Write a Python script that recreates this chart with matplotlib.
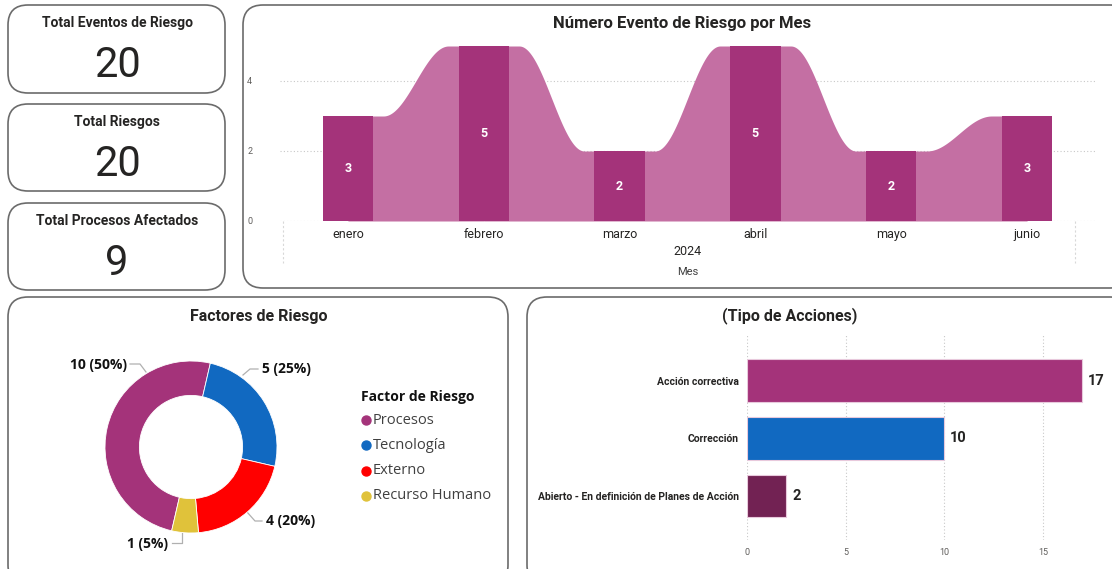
import numpy as np
import matplotlib
matplotlib.use("Agg")
import matplotlib.pyplot as plt
from matplotlib.patches import FancyBboxPatch

plt.rcParams['font.family'] = ['Roboto', 'DejaVu Sans']

W, H = 1112, 569

# ---------------- datos ----------------
tarjetas_titulos = ["Total Eventos de Riesgo", "Total Riesgos", "Total Procesos Afectados"]
tarjetas_valores = [20, 20, 9]

meses = ["enero", "febrero", "marzo", "abril", "mayo", "junio"]
eventos_mes = [3, 5, 2, 5, 2, 3]
anio = "2024"

factores = ["Procesos", "Tecnología", "Externo", "Recurso Humano"]
factores_valores = [10, 5, 4, 1]
factores_colores = ["#A4337A", "#1169C1", "#FF0000", "#E0C23A"]

acciones = ["Acción correctiva", "Corrección", "Abierto - En definición de Planes de Acción"]
acciones_valores = [17, 10, 2]
acciones_colores = ["#A4337A", "#1169C1", "#722253"]

COLOR_BARRA = "#A4337A"
COLOR_CINTA = "#C46FA3"
TXT = "#252423"


def px_axes(fig, x0, y0, x1, y1):
    # caja en pixeles (origen arriba-izquierda) -> ejes de matplotlib
    return fig.add_axes([x0 / W, 1 - y1 / H, (x1 - x0) / W, (y1 - y0) / H])


fig = plt.figure(figsize=(W / 100, H / 100), dpi=100)

# fondo con las tarjetas, en coordenadas de pixel
bg = fig.add_axes([0, 0, 1, 1])
bg.set_xlim(0, W)
bg.set_ylim(H, 0)
bg.axis("off")


def tarjeta(x0, y0, x1, y1):
    bg.add_patch(FancyBboxPatch((x0, y0), x1 - x0, y1 - y0,
                                boxstyle="round,pad=0,rounding_size=20",
                                fc="white", ec="#6b6b6b", lw=1.2))


tarjeta(8, 5, 225, 93)
tarjeta(8, 104, 225, 191)
tarjeta(8, 203, 225, 290)
tarjeta(243, 5, 1130, 288)
tarjeta(8, 297, 508, 585)
tarjeta(527, 297, 1130, 585)

# ---------------- tarjetas KPI ----------------
for i, (t, v) in enumerate(zip(tarjetas_titulos, tarjetas_valores)):
    y0 = [5, 104, 203][i]
    bg.text(117, y0 + 18, t, ha="center", va="center", fontsize=10,
            fontweight="bold", color=TXT)
    bg.text(117, y0 + 60, str(v), ha="center", va="center", fontsize=30,
            color=TXT)

# ---------------- eventos por mes (cintas) ----------------
bg.text(682, 23, "Número Evento de Riesgo por Mes", ha="center", va="center",
        fontsize=12, fontweight="bold", color=TXT)

ax1 = px_axes(fig, 280, 40, 1095, 221)
ax1.set_facecolor("none")
xs = np.arange(len(meses))
ancho = 0.37
for i in range(len(meses) - 1):
    a, b = eventos_mes[i], eventos_mes[i + 1]
    x0, x1 = xs[i] + ancho / 2, xs[i + 1] - ancho / 2
    xx = np.linspace(x0, x1, 80)
    t = (xx - x0) / (x1 - x0)
    t = np.clip((t - 0.12) / 0.76, 0, 1)
    s = (1 - np.cos(np.pi * t)) / 2
    yy = a + (b - a) * s
    # se prolonga bajo las barras para no dejar costura
    xx = np.concatenate([[xs[i]], xx, [xs[i + 1]]])
    yy = np.concatenate([[min(a, yy[0])], yy, [min(b, yy[-1])]])
    ax1.fill_between(xx, 0, yy, color=COLOR_CINTA, lw=0, zorder=2)
ax1.bar(xs, eventos_mes, width=ancho, color=COLOR_BARRA, zorder=3)
for x, v in zip(xs, eventos_mes):
    ax1.text(x, v / 2, str(v), ha="center", va="center", color="white",
             fontsize=9, fontweight="bold", zorder=4)
ax1.set_xlim(-0.5, 5.5)
ax1.set_ylim(0, 181 / 35)
ax1.set_yticks([0, 2, 4])
ax1.set_xticks(xs)
ax1.set_xticklabels(meses, fontsize=9, color=TXT)
ax1.tick_params(axis="y", labelsize=6.5, colors="#605E5C", length=0, pad=20)
ax1.tick_params(axis="x", length=0, pad=5)
ax1.grid(axis="y", ls=(0, (1, 2)), color="#c8c8c8", lw=0.8, zorder=0)
for s in ax1.spines.values():
    s.set_visible(False)
for xf in [0.004, 0.975]:
    ax1.plot([xf, xf], [0, -0.23], transform=ax1.transAxes, clip_on=False,
             ls=(0, (2, 2)), color="#d8d8d8", lw=0.8)
bg.text(688, 251, anio, ha="center", va="center", fontsize=9, color=TXT)
bg.text(688, 272, "Mes", ha="center", va="center", fontsize=8, color="#404040")

# ---------------- factores de riesgo (dona) ----------------
bg.text(259, 316, "Factores de Riesgo", ha="center", va="center",
        fontsize=11.5, fontweight="bold", color=TXT)

cx, cy, R = 191, 447, 86
ax2 = px_axes(fig, cx - 100, cy - 100, cx + 100, cy + 100)
ax2.pie(factores_valores, colors=factores_colores, startangle=-103,
        counterclock=False, radius=1,
        wedgeprops=dict(width=0.4, edgecolor="white", linewidth=0.6))
ax2.set_xlim(-100 / R, 100 / R)
ax2.set_ylim(-100 / R, 100 / R)
ax2.set_aspect("equal")
ax2.axis("off")

total = sum(factores_valores)
# posicion de cada etiqueta y su linea guia (pixeles)
guias = [
    dict(txt=(127, 365), ha="right", line=[(146, 372), (140, 364), (130, 364)]),
    dict(txt=(262, 369), ha="left", line=[(243, 375), (250, 369), (258, 369)]),
    dict(txt=(266, 521), ha="left", line=[(247, 512), (255, 521), (262, 521)]),
    dict(txt=(168, 544), ha="right", line=[(182, 533), (182, 543), (172, 543)]),
]
for v, g in zip(factores_valores, guias):
    lx, ly = zip(*g["line"])
    bg.plot(lx, ly, color="#b0b0b0", lw=0.9, zorder=5)
    bg.text(g["txt"][0], g["txt"][1], f"{v} ({v / total:.0%})", ha=g["ha"],
            va="center", fontsize=10, fontweight="bold", color="#111111",
            family=["Open Sans", "DejaVu Sans"], zorder=5)

bg.text(361, 397, "Factor de Riesgo", ha="left", va="center", fontsize=10,
        fontweight="bold", color="#111111", family=["Open Sans", "DejaVu Sans"])
for i, (f, c) in enumerate(zip(factores, factores_colores)):
    yy = 420 + i * 25.3
    bg.scatter([366], [yy], s=42, color=c, zorder=5)
    bg.text(373, yy, f, ha="left", va="center", fontsize=10.5, color="#404040",
            family=["Open Sans", "DejaVu Sans"])

# ---------------- tipo de acciones (barras) ----------------
bg.text(790, 316, "(Tipo de Acciones)", ha="center", va="center",
        fontsize=11.5, fontweight="bold", color=TXT)

ax3 = px_axes(fig, 747, 335, 1102, 540)
ax3.set_facecolor("none")
ys = np.arange(len(acciones))
ax3.barh(ys, acciones_valores, height=0.74, color=acciones_colores,
         edgecolor="#e8c9dc", lw=0.8, zorder=3)
for y, v in zip(ys, acciones_valores):
    ax3.text(v + 0.3, y, str(v), ha="left", va="center", fontsize=10.5,
             fontweight="bold", color=TXT)
ax3.set_xlim(0, 18)
ax3.set_ylim(2.76, -0.79)
ax3.set_xticks([0, 5, 10, 15])
ax3.set_yticks(ys)
ax3.set_yticklabels(acciones, fontsize=7.5, fontweight="bold", color=TXT)
ax3.tick_params(axis="x", labelsize=6.5, colors="#605E5C", length=0, pad=6)
ax3.tick_params(axis="y", length=0, pad=6)
ax3.grid(axis="x", ls=(0, (1, 2)), color="#c8c8c8", lw=0.8, zorder=0)
for s in ax3.spines.values():
    s.set_visible(False)

fig.savefig("out.png", dpi=100)
